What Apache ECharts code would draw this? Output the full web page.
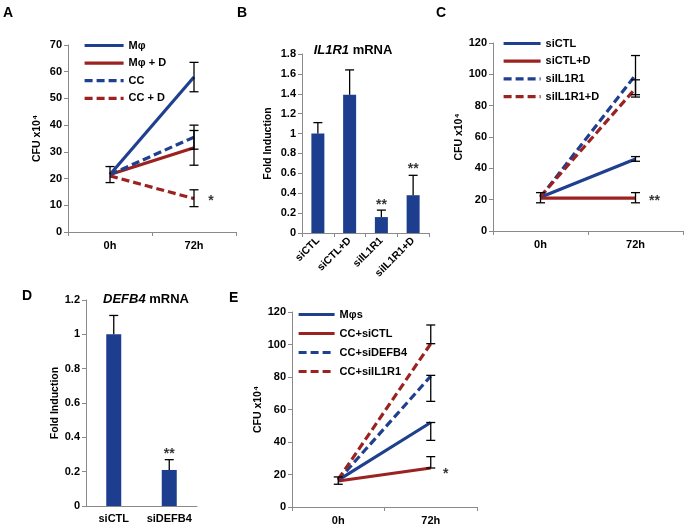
<!DOCTYPE html>
<html><head><meta charset="utf-8">
<script src="https://cdn.jsdelivr.net/npm/echarts@6/dist/echarts.min.js"></script>
<style>html,body{margin:0;padding:0;background:#fff}#c{width:687px;height:526px}</style>
</head><body><div id="c"></div>
<script>
// ---------- data ----------
const timeCats = ['0h', '72h'];
// Panel A
const aNames = ['Mφ', 'Mφ + D', 'CC', 'CC + D'];
const aValues = [[21.5, 58], [21.5, 31.5], [21.5, 35.5], [21, 12.5]];
const aErr0 = [18.5, 24.5];
const aErr72 = [[52.5, 63.5], [25, 38], [31, 40], [9.5, 15.8]];
// Panel B
const bCats = ['siCTL', 'siCTL+D', 'siIL1R1', 'siIL1R1+D'];
const bValues = [1.0, 1.39, 0.16, 0.38];
const bErr = [0.11, 0.25, 0.07, 0.2];
const bStars = [[2, 0.31, '**'], [3, 0.67, '**']];
// Panel C
const cNames = ['siCTL', 'siCTL+D', 'siIL1R1', 'siIL1R1+D'];
const cValues = [[21.5, 46], [21, 21], [21.5, 99.5], [22, 91]];
const cErr0 = [18, 24.5];
const cErr72 = [[44.5, 47.5], [18, 24.5], [87, 112], [85.5, 96.5]];
// Panel D
const dCats = ['siCTL', 'siDEFB4'];
const dValues = [1.0, 0.21];
const dErr = [0.11, 0.06];
const dStars = [[1, 0.32, '**']];
// Panel E
const eNames = ['Mφs', 'CC+siCTL', 'CC+siDEFB4', 'CC+siIL1R1'];
const eValues = [[16.5, 52], [16, 24], [16.5, 80.5], [17, 100.5]];
const eErr0 = [14, 18.5];
const eErr72 = [[41, 52], [24, 31], [65, 81], [100.5, 112]];

// ---------- styles ----------
const BLUE = '#1f3f8f', RED = '#9c2222', BAR = '#1d3d8f';
const FONT = '"Liberation Sans", Arial, sans-serif';
const lineStyles = [
  {color: BLUE, type: 'solid'}, {color: RED, type: 'solid'},
  {color: BLUE, type: [8, 4]}, {color: RED, type: [8, 4]}
];
const axisLineGray = {lineStyle: {color: '#8a8a8a', width: 1}};
const lbl = {fontFamily: FONT, fontWeight: 'bold', fontSize: 11, color: '#000'};

function errRender(params, api) {
  const x = api.value(0), lo = api.value(1), hi = api.value(2), capLo = api.value(3);
  const p1 = api.coord([x, lo]), p2 = api.coord([x, hi]);
  const w = 4.5;
  const st = {stroke: '#000', lineWidth: 1.3};
  const ch = [
    {type: 'line', shape: {x1: p1[0], y1: p1[1], x2: p2[0], y2: p2[1]}, style: st},
    {type: 'line', shape: {x1: p2[0] - w, y1: p2[1], x2: p2[0] + w, y2: p2[1]}, style: st}
  ];
  if (capLo) ch.push({type: 'line', shape: {x1: p1[0] - w, y1: p1[1], x2: p1[0] + w, y2: p1[1]}, style: st});
  return {type: 'group', children: ch};
}
function errSeries(idx, data) {
  return {type: 'custom', xAxisIndex: idx, yAxisIndex: idx, renderItem: errRender, data: data, z: 5, silent: true};
}
function starSeries(idx, data, offset) {
  return {type: 'scatter', xAxisIndex: idx, yAxisIndex: idx, symbolSize: 0, silent: true, z: 6,
    data: data.map(d => ({value: [d[0], d[1]], name: d[2]})),
    label: {show: true, position: 'inside', formatter: p => p.name, offset: offset || [0, 0],
      fontFamily: FONT, fontWeight: 'bold', fontSize: 14, color: '#000'}};
}
function lineSet(idx, names, values) {
  return names.map((n, i) => ({
    type: 'line', name: n, xAxisIndex: idx, yAxisIndex: idx, data: values[i], symbol: 'none',
    lineStyle: Object.assign({width: 3.2}, lineStyles[i]), itemStyle: {color: lineStyles[i].color}, z: 3
  }));
}
function lineErr(err0, err72) {
  const d = [[0, err0[0], err0[1], 1]];
  err72.forEach(e => d.push([1, e[0], e[1], 1]));
  return d;
}
function catAxis(idx, cats, extra) {
  return Object.assign({type: 'category', gridIndex: idx, data: cats, boundaryGap: true,
    axisLine: axisLineGray, axisTick: {show: true, length: 4, lineStyle: {color: '#8a8a8a'}},
    axisLabel: Object.assign({margin: 8}, lbl), splitLine: {show: false}}, extra || {});
}
function valAxis(idx, max, interval, name, gap) {
  return {type: 'value', gridIndex: idx, min: 0, max: max, interval: interval,
    axisLine: Object.assign({show: true}, axisLineGray), axisTick: {show: true, length: 4, lineStyle: {color: '#8a8a8a'}},
    axisLabel: Object.assign({margin: 6}, lbl), splitLine: {show: false},
    name: name, nameLocation: 'middle', nameGap: gap, nameRotate: 90,
    nameTextStyle: {fontFamily: FONT, fontWeight: 'bold', fontSize: 10.5, color: '#000'}};
}
function legend(names, left, top, w, gap) {
  return {data: names, orient: 'vertical', left: left, top: top, padding: 0, itemWidth: w, itemHeight: 12, itemGap: gap,
    selectedMode: false, lineStyle: {width: 3.2}, itemStyle: {opacity: 0, borderWidth: 0},
    textStyle: {fontFamily: FONT, fontWeight: 'bold', fontSize: 11, color: '#000'}};
}
function letter(t, x, y) {
  return {type: 'text', left: x, top: y, style: {text: t, fontFamily: FONT, fontWeight: 'bold', fontSize: 14, fill: '#000'}};
}

const chart = echarts.init(document.getElementById('c'), null, {renderer: 'canvas'});
chart.setOption({
  animation: false,
  backgroundColor: '#fff',
  grid: [
    {left: 68, top: 45, width: 168, height: 187},
    {left: 302, top: 54, width: 127, height: 179},
    {left: 493, top: 43, width: 190, height: 188},
    {left: 86, top: 300, width: 111, height: 206},
    {left: 292, top: 312, width: 185, height: 195}
  ],
  xAxis: [
    catAxis(0, timeCats),
    catAxis(1, bCats, {axisLabel: Object.assign({}, lbl, {rotate: 45, fontSize: 10.5, margin: 6, interval: 0})}),
    catAxis(2, timeCats),
    catAxis(3, dCats, {axisTick: {show: false}, axisLabel: Object.assign({}, lbl, {margin: 7, interval: 0})}),
    catAxis(4, timeCats)
  ],
  yAxis: [
    valAxis(0, 70, 10, 'CFU x10⁴', 25),
    valAxis(1, 1.8, 0.2, 'Fold Induction', 28),
    valAxis(2, 120, 20, 'CFU x10⁴', 22),
    valAxis(3, 1.2, 0.2, 'Fold Induction', 24),
    valAxis(4, 120, 20, 'CFU x10⁴', 16)
  ],
  legend: [
    legend(aNames, 83, 40, 39, 6.6),
    legend(cNames, 502, 38, 37, 6.7),
    legend(eNames, 297, 309, 36, 8)
  ],
  title: [
    {text: '{i|IL1R1} mRNA', left: 353, top: 44, padding: 0, textAlign: 'center',
      textStyle: {fontFamily: FONT, fontWeight: 'bold', fontSize: 13, color: '#000',
        rich: {i: {fontFamily: FONT, fontWeight: 'bold', fontStyle: 'italic', fontSize: 13, color: '#000'}}}},
    {text: '{i|DEFB4} mRNA', left: 146, top: 293, padding: 0, textAlign: 'center',
      textStyle: {fontFamily: FONT, fontWeight: 'bold', fontSize: 13, color: '#000',
        rich: {i: {fontFamily: FONT, fontWeight: 'bold', fontStyle: 'italic', fontSize: 13, color: '#000'}}}}
  ],
  graphic: [letter('A', 3, 6), letter('B', 237, 6), letter('C', 436, 6), letter('D', 22, 289), letter('E', 229, 291)],
  series: [
    ...lineSet(0, aNames, aValues),
    errSeries(0, lineErr(aErr0, aErr72)),
    starSeries(0, [[1, 12.5, '*']], [17, 3]),
    {type: 'bar', xAxisIndex: 1, yAxisIndex: 1, data: bValues, barWidth: 13, itemStyle: {color: BAR}},
    errSeries(1, bValues.map((v, i) => [i, v, v + bErr[i], 0])),
    starSeries(1, bStars, [0, 3]),
    ...lineSet(2, cNames, cValues),
    errSeries(2, lineErr(cErr0, cErr72)),
    starSeries(2, [[1, 21, '**']], [19, 3]),
    {type: 'bar', xAxisIndex: 3, yAxisIndex: 3, data: dValues, barWidth: 15, itemStyle: {color: BAR}},
    errSeries(3, dValues.map((v, i) => [i, v, v + dErr[i], 0])),
    starSeries(3, dStars, [0, 3]),
    ...lineSet(4, eNames, eValues),
    errSeries(4, lineErr(eErr0, eErr72)),
    starSeries(4, [[1, 22, '*']], [15, 3])
  ]
});
</script></body></html>
